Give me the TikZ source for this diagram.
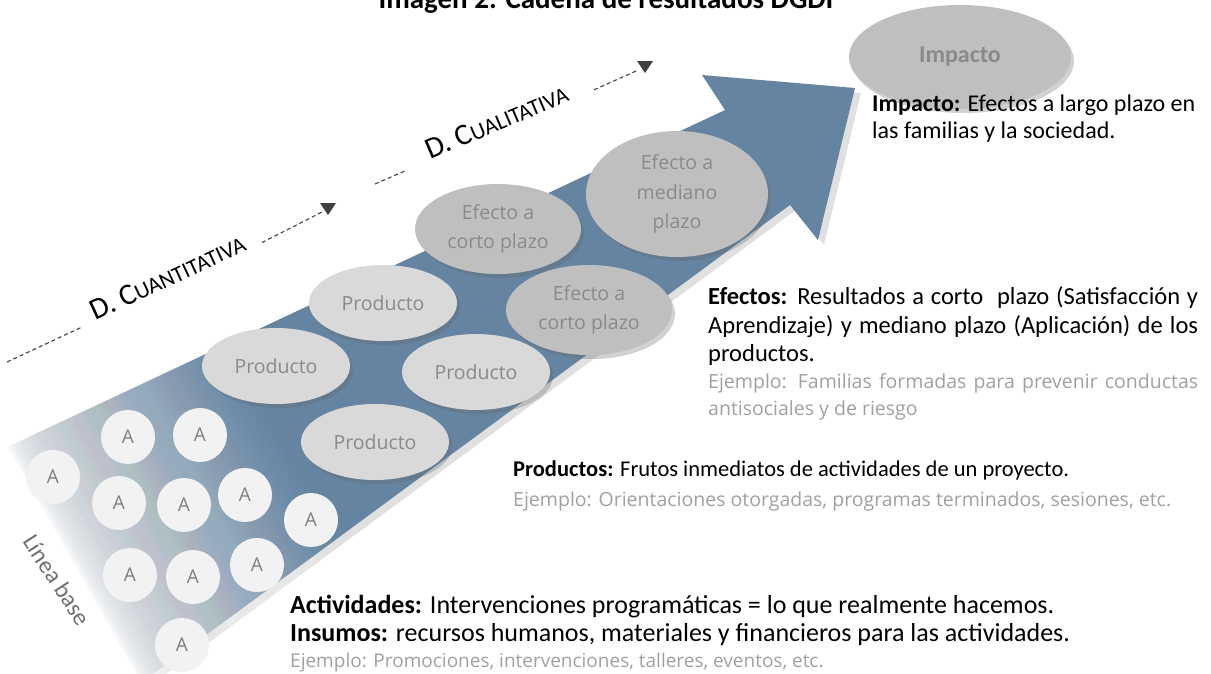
\documentclass[tikz,border=0pt]{standalone}
\usepackage{fontspec}
\setmainfont{Carlito}
\newfontfamily\osans{Open Sans}
\usetikzlibrary{shapes.geometric,shadows,calc}

\definecolor{arrowblue}{HTML}{6484A2}
\definecolor{prodfill}{HTML}{D9D9D9}
\definecolor{efefill}{HTML}{BFBFBF}
\definecolor{elltext}{HTML}{8A8A8A}
\definecolor{afill}{HTML}{F2F2F2}
\definecolor{atext}{HTML}{7F7F7F}
\definecolor{exgray}{HTML}{A0A0A0}
\definecolor{dashgray}{HTML}{404040}
\definecolor{lbgray}{HTML}{6F6F6F}

\newcommand{\arrowpath}{(-20,460) -- (725,110) -- (702,75) -- (855,88) -- (818,240) -- (790,205) -- (118,700) -- cycle}

\begin{document}
\begin{tikzpicture}[x=1pt,y=-1pt,
  ell/.style={ellipse, inner sep=0pt, align=center, text=elltext,
    font=\osans\fontsize{19.5}{29}\selectfont,
    drop shadow={shadow xshift=3pt, shadow yshift=-4pt, opacity=0.3, fill=black!60}},
  prod/.style={ell, fill=prodfill, minimum width=148pt, minimum height=76pt},
  efe/.style={ell, fill=efefill, minimum width=166pt, minimum height=90pt},
  acirc/.style={circle, fill=afill, minimum size=54pt, inner sep=0pt, text=atext,
    font=\osans\fontsize{19}{19}\selectfont},
  blk/.style={anchor=base west, inner sep=0pt},
  ex/.style={anchor=base west, inner sep=0pt, text=exgray, font=\osans\fontsize{19.5}{19.5}\selectfont},
  dashln/.style={draw=dashgray, line width=1.1pt, dash pattern=on 4pt off 3pt},
  dimlabel/.style={anchor=base west, inner sep=0pt, rotate=25},
  headtri/.style={fill=dashgray}
]
\useasboundingbox (0,0) rectangle (1211,673);
\clip (0,0) rectangle (1211,673);

% big arrow
\begin{scope}[shift={(6,5)}]
  \fill[black, opacity=0.12] \arrowpath;
\end{scope}
\fill[arrowblue] \arrowpath;
% white fade at the tail
\begin{scope}[shift={(10,450)}, rotate=29.5]
  \fill[white] (-500,-700) rectangle (0,900);
  \foreach \k in {1,...,80} {
    \pgfmathsetmacro\op{1/(\k+0.5)}
    \pgfmathsetmacro\sk{\k*3}
    \fill[white, opacity=\op] (-500,-700) rectangle (\sk,900);
  }
\end{scope}

% title
\node[anchor=base, inner sep=0pt, font=\bfseries\fontsize{29}{29}\selectfont] (title) at (606,8) {Imagen 2. Cadena de resultados DGDI};

% ellipses
\node[prod] (p1) at (383,303) {Producto};
\node[prod] (p2) at (276,366) {Producto};
\node[prod] (p3) at (476,372) {Producto};
\node[prod] (p4) at (375,442) {Producto};
\node[efe] (ec1) at (498,229) {Efecto a\\corto plazo};
\node[efe] (ec2) at (589,310) {Efecto a\\corto plazo};
\node[efe, minimum width=182pt, minimum height=126pt, font=\osans\fontsize{19.5}{29.5}\selectfont] (em) at (677,194) {Efecto a\\mediano\\plazo};
\node[ell, fill=efefill, minimum width=222pt, minimum height=104pt, font=\bfseries\fontsize{24}{24}\selectfont] (imp) at (960,57) {Impacto};

% activity circles
\node[acirc] (a1) at (128,437) {A};
\node[acirc] (a2) at (200,435) {A};
\node[acirc] (a3) at (53,477) {A};
\node[acirc] (a4) at (119,503) {A};
\node[acirc] (a5) at (184,505) {A};
\node[acirc] (a6) at (245,495) {A};
\node[acirc] (a7) at (311,520) {A};
\node[acirc] (a8) at (130,575) {A};
\node[acirc] (a9) at (193,577) {A};
\node[acirc] (a10) at (257,565) {A};
\node[acirc] (a11) at (182,645) {A};

\node[rotate=-57, inner sep=0pt, text=lbgray, font=\fontsize{24}{24}\selectfont] (lb) at (57,580) {Línea base};

% dimension labels and dashed arrows
\coordinate (dl0) at (7,362);
\coordinate (dl1) at (375,184);
\coordinate (h1) at (328,209);
\coordinate (h2) at (645,67);
\node[dimlabel] (cuant) at (95,321) {\fontsize{30}{30}\selectfont D. C\fontsize{22.5}{22.5}\selectfont UANTITATIVA};
\node[dimlabel, rotate=-2] (cual) at (430,160) {\fontsize{30}{30}\selectfont D. C\fontsize{22.5}{22.5}\selectfont UALITATIVA};
\draw[dashln] (dl0) -- ($(cuant.base west)!14pt!(dl0)$);
\draw[dashln] ($(cuant.base east)!16pt!(h1)$) -- ($(h1)!7pt!(cuant.base east)$);
\fill[headtri] ([shift={(-8,-6)}]h1) -- ([shift={(8,-6)}]h1) -- ([shift={(0,6)}]h1) -- cycle;
\draw[dashln] (dl1) -- ($(cual.base west)!26pt!(dl1)$);
\draw[dashln] ($(cual.base east)!26pt!(h2)$) -- ($(h2)!7pt!(cual.base east)$);
\fill[headtri] ([shift={(-8,-6)}]h2) -- ([shift={(8,-6)}]h2) -- ([shift={(0,6)}]h2) -- cycle;

% text blocks
\node[blk, font=\fontsize{24}{24}\selectfont] (timp1) at (872,111) {\textbf{Impacto:} Efectos a largo plazo en};
\node[blk, font=\fontsize{24}{24}\selectfont] (timp2) at (872,138) {las familias y la sociedad.};

\node[blk, font=\fontsize{24.5}{24.5}\selectfont] (tef1) at (708,304) {\makebox[490pt][s]{\textbf{Efectos:} Resultados a corto\ \ plazo (Satisfacción y}};
\node[blk, font=\fontsize{24.5}{24.5}\selectfont] (tef2) at (708,333) {\makebox[490pt][s]{Aprendizaje) y mediano plazo (Aplicación) de los}};
\node[blk, font=\fontsize{24.5}{24.5}\selectfont] (tef3) at (708,361) {productos.};
\node[ex] (tef4) at (708,388) {\makebox[490pt][s]{Ejemplo: Familias formadas para prevenir conductas}};
\node[ex] (tef5) at (708,415) {antisociales y de riesgo};

\node[blk, font=\fontsize{22.5}{22.5}\selectfont] (tpr1) at (513,476) {\textbf{Productos:} Frutos inmediatos de actividades de un proyecto.};
\node[ex] (tpr2) at (513,506) {Ejemplo: Orientaciones otorgadas, programas terminados, sesiones, etc.};

\node[blk, font=\fontsize{26}{26}\selectfont] (tac1) at (290,613) {\textbf{Actividades:} Intervenciones programáticas = lo que realmente hacemos.};
\node[blk, font=\fontsize{26}{26}\selectfont] (tac2) at (290,641) {\textbf{Insumos:} recursos humanos, materiales y financieros para las actividades.};
\node[ex, font=\osans\fontsize{19}{19}\selectfont] (tac3) at (290,667) {Ejemplo: Promociones, intervenciones, talleres, eventos, etc.};
\end{tikzpicture}
\end{document}
